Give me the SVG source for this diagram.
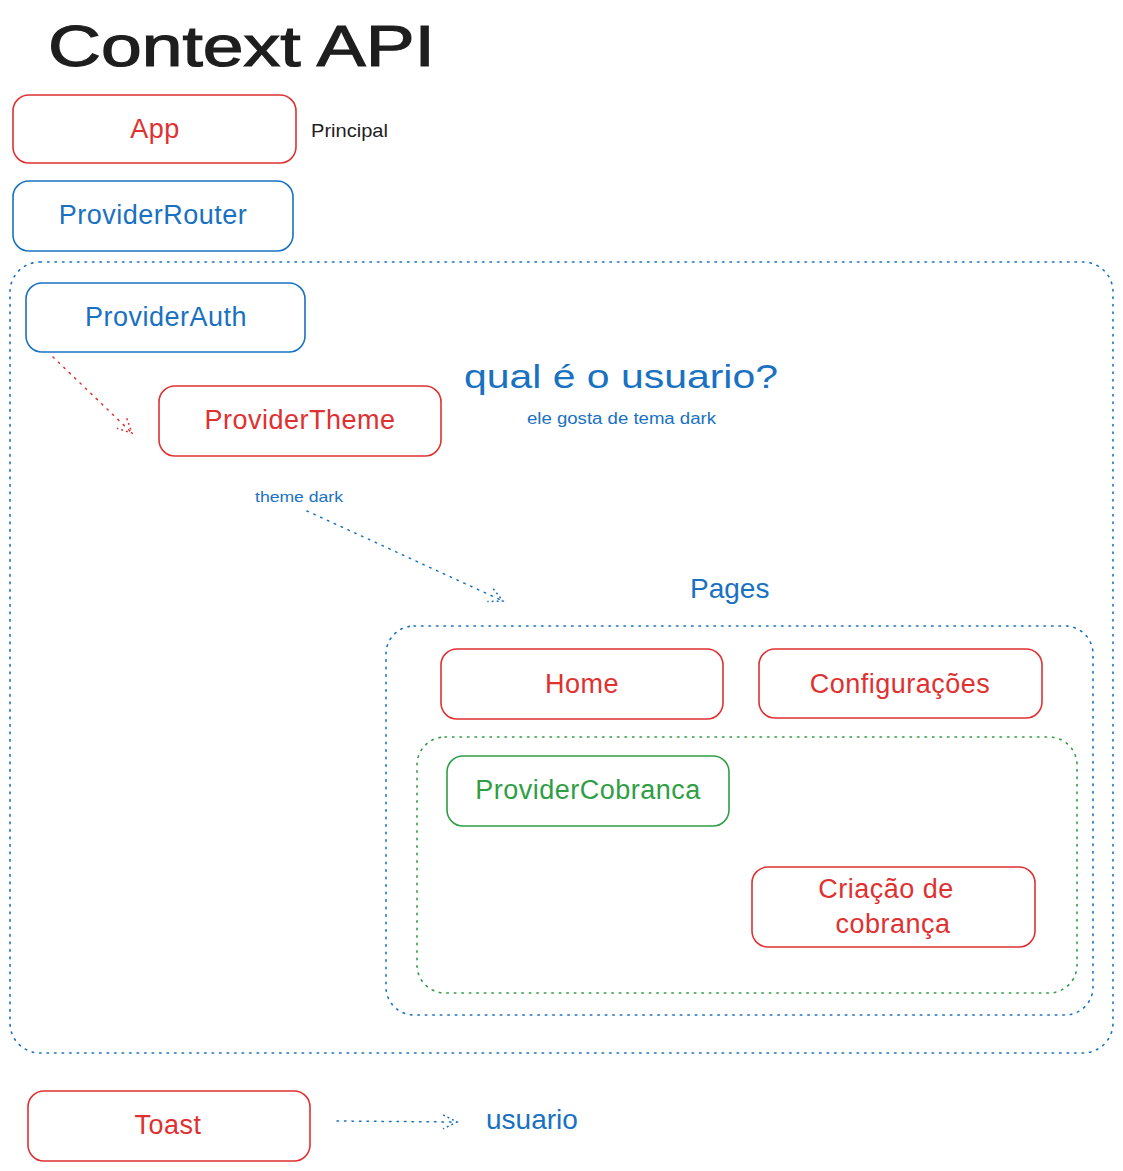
<svg xmlns="http://www.w3.org/2000/svg" width="1123" height="1171" viewBox="0 0 1123 1171">
<style>
text{font-family:"Liberation Sans","DejaVu Sans",sans-serif;}
.box{fill:none;stroke-width:1.6;}
.r{stroke:#e03131;}
.b{stroke:#1971c2;}
.g{stroke:#2f9e44;}
.tr{fill:#e03131;}
.tb{fill:#1971c2;}
.tg{fill:#2f9e44;}
.cont{fill:none;stroke-width:1.6;stroke-dasharray:1.5 6;stroke-linecap:round;}
.lbl{font-size:27px;text-anchor:middle;dominant-baseline:central;letter-spacing:0.5px;}
.conn{fill:none;stroke-width:1.5;stroke-dasharray:1.5 6;stroke-linecap:round;}
</style>
<defs>
<marker id="ahb" markerWidth="20" markerHeight="20" refX="18" refY="10" orient="auto" markerUnits="userSpaceOnUse">
<path d="M4 3 L18 10 L4 17" fill="none" stroke="#1971c2" stroke-width="1.5" stroke-dasharray="2 3"/>
</marker>
<marker id="ahr" markerWidth="20" markerHeight="20" refX="18" refY="10" orient="auto" markerUnits="userSpaceOnUse">
<path d="M4 3 L18 10 L4 17" fill="none" stroke="#e03131" stroke-width="1.5" stroke-dasharray="2 3"/>
</marker>
</defs>
<rect width="1123" height="1171" fill="#ffffff"/>
<text x="48" y="66" font-size="58" fill="#1e1e1e" stroke="#1e1e1e" stroke-width="1.2" textLength="387" lengthAdjust="spacingAndGlyphs">Context API</text>

<g id="containers">
<rect id="outer-container" class="cont b" x="10" y="262" width="1103" height="791" rx="30"/>
<rect id="pages-container" class="cont b" x="386" y="626" width="707" height="389" rx="28"/>
<rect id="cobranca-container" class="cont g" x="417" y="737" width="660" height="256" rx="28"/>
</g>

<g id="connectors">
<path class="conn r" d="M53 357 L132 433" marker-end="url(#ahr)"/>
<path class="conn b" d="M307 511 L503 601" marker-end="url(#ahb)"/>
<path class="conn b" d="M337 1121 L457 1122" marker-end="url(#ahb)"/>
</g>

<g id="app"><rect class="box r" x="13" y="95" width="283" height="68" rx="16"/><text class="lbl tr" x="155" y="129">App</text></g>
<g id="principal"><text x="311" y="137" font-size="19" fill="#1e1e1e" textLength="77" lengthAdjust="spacingAndGlyphs">Principal</text></g>
<g id="provider-router"><rect class="box b" x="13" y="181" width="280" height="70" rx="16"/><text class="lbl tb" x="153" y="215">ProviderRouter</text></g>
<g id="provider-auth"><rect class="box b" x="26" y="283" width="279" height="69" rx="16"/><text class="lbl tb" x="166" y="317">ProviderAuth</text></g>
<g id="provider-theme"><rect class="box r" x="159" y="386" width="282" height="70" rx="16"/><text class="lbl tr" x="300" y="420">ProviderTheme</text></g>
<g id="qual-usuario"><text x="464" y="388" font-size="34" class="tb" textLength="314" lengthAdjust="spacingAndGlyphs">qual é o usuario?</text></g>
<g id="ele-gosta"><text x="527" y="424" font-size="16" class="tb" textLength="189" lengthAdjust="spacingAndGlyphs">ele gosta de tema dark</text></g>
<g id="theme-dark"><text x="255" y="502" font-size="15" class="tb" textLength="88" lengthAdjust="spacingAndGlyphs">theme dark</text></g>
<g id="pages-label"><text x="690" y="598" font-size="28" class="tb">Pages</text></g>
<g id="home"><rect class="box r" x="441" y="649" width="282" height="70" rx="16"/><text class="lbl tr" x="582" y="684">Home</text></g>
<g id="configuracoes"><rect class="box r" x="759" y="649" width="283" height="69" rx="16"/><text class="lbl tr" x="900" y="684">Configurações</text></g>
<g id="provider-cobranca"><rect class="box g" x="447" y="756" width="282" height="70" rx="16"/><text class="lbl tg" x="588" y="790">ProviderCobranca</text></g>
<g id="criacao-cobranca"><rect class="box r" x="752" y="867" width="283" height="80" rx="16"/><text class="lbl tr" x="886" y="889">Criação de</text><text class="lbl tr" x="893" y="924">cobrança</text></g>
<g id="toast"><rect class="box r" x="28" y="1091" width="282" height="70" rx="16"/><text class="lbl tr" x="168" y="1125">Toast</text></g>
<g id="usuario"><text x="486" y="1129" font-size="28" class="tb">usuario</text></g>
</svg>
